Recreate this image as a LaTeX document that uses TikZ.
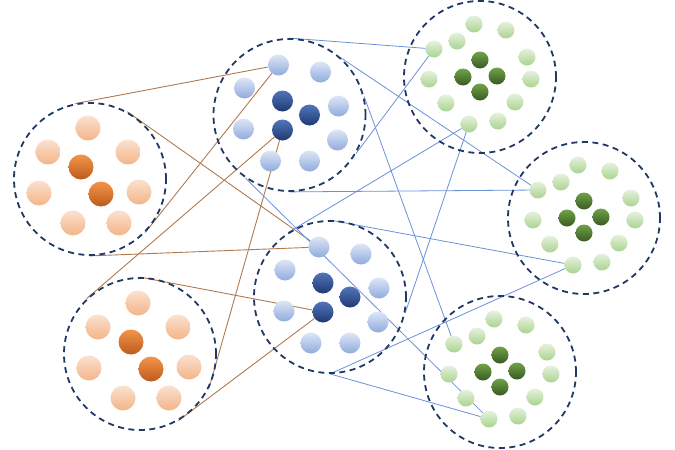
\documentclass[tikz,border=0pt]{standalone}
\usepackage{tikz}
\usetikzlibrary{backgrounds}
\definecolor{ring}{HTML}{203864}
\definecolor{brownline}{HTML}{B07A50}
\definecolor{blueline}{HTML}{6A91D8}
\definecolor{orangeTop}{HTML}{FBE1D0}
\definecolor{orangeBot}{HTML}{F3B487}
\definecolor{orangeDarkTop}{HTML}{F2954A}
\definecolor{orangeDarkBot}{HTML}{BD5A1C}
\definecolor{blueTop}{HTML}{DDE6F6}
\definecolor{blueBot}{HTML}{90ABDD}
\definecolor{blueDarkTop}{HTML}{5275BA}
\definecolor{blueDarkBot}{HTML}{1F3A72}
\definecolor{greenTop}{HTML}{E6F2DE}
\definecolor{greenBot}{HTML}{AAD38F}
\definecolor{greenDarkTop}{HTML}{70A348}
\definecolor{greenDarkBot}{HTML}{385A22}
\tikzset{
    cluster/.style={circle, draw=ring, line width=1.8pt, dash pattern=on 6pt off 4.5pt, minimum size=152pt, inner sep=0pt},
    odot/.style={circle, minimum size=25pt, inner sep=0pt, top color=orangeTop, bottom color=orangeBot},
    odark/.style={circle, minimum size=25pt, inner sep=0pt, top color=orangeDarkTop, bottom color=orangeDarkBot},
    bdot/.style={circle, minimum size=21pt, inner sep=0pt, top color=blueTop, bottom color=blueBot},
    bdark/.style={circle, minimum size=21pt, inner sep=0pt, top color=blueDarkTop, bottom color=blueDarkBot},
    gdot/.style={circle, minimum size=17pt, inner sep=0pt, top color=greenTop, bottom color=greenBot},
    gdark/.style={circle, minimum size=17pt, inner sep=0pt, top color=greenDarkTop, bottom color=greenDarkBot},
    brownlink/.style={draw=brownline, line width=0.9pt},
    bluelink/.style={draw=blueline, line width=0.8pt}
}

\begin{document}
\begin{tikzpicture}[x=1pt, y=-1pt]
    \useasboundingbox (0,0) rectangle (675,450);
    % dashed clusters
    \node[cluster] (o1) at (90,179) {};
    \node[cluster] (o2) at (140,354) {};
    \node[cluster] (b1) at (289.5,115) {};
    \node[cluster] (b2) at (330,297) {};
    \node[cluster] (g1) at (480,77) {};
    \node[cluster] (g2) at (584,218) {};
    \node[cluster] (g3) at (500,372) {};
    % dots inside the clusters
    \foreach \c in {o1,o2}{
        \foreach \dx/\dy [count=\i] in {-2/-51, -42/-27, 38/-27, -51/14, 49/13, -17/44, 29/44}
            \node[odot] (\c-\i) at ([shift={(\dx,\dy)}]\c) {};
        \foreach \dx/\dy [count=\i] in {-9/-12, 11/15}
            \node[odark] (\c-d\i) at ([shift={(\dx,\dy)}]\c) {};
    }
    \foreach \c in {b1,b2}{
        \foreach \dx/\dy [count=\i] in {-11/-50, 31/-43, -45/-27, 49/-9, -46/14, 48/25, -19/46, 20/46}
            \node[bdot] (\c-\i) at ([shift={(\dx,\dy)}]\c) {};
        \foreach \dx/\dy [count=\i] in {-7/-14, 20/0, -7/15}
            \node[bdark] (\c-d\i) at ([shift={(\dx,\dy)}]\c) {};
    }
    \foreach \c in {g1,g2,g3}{
        \foreach \dx/\dy [count=\i] in {-6/-53, 26/-47, -23/-36, -46/-28, 47/-20, -51/2, 51/2, -34/26, 35/25, -11/47, 18/44}
            \node[gdot] (\c-\i) at ([shift={(\dx,\dy)}]\c) {};
        \foreach \dx/\dy [count=\i] in {0/-17, -17/0, 17/-1, 0/15}
            \node[gdark] (\c-d\i) at ([shift={(\dx,\dy)}]\c) {};
    }
    % links
    \begin{scope}[on background layer]
        \draw[brownlink] (o1.101) -- (b1-1);
        \draw[brownlink] (o1.61) -- (b2-1);
        \draw[brownlink] (b1-1) -- (o1.-44);
        \draw[brownlink] (o1.-90) -- (b2-1);
        \draw[brownlink] (b1-d3) -- (o2.134);
        \draw[brownlink] (b1-d3) -- (o2.-26);
        \draw[brownlink] (o2.90) -- (b2-d3);
        \draw[brownlink] (b2-d3) -- (o2.-60);
        \draw[bluelink] (b1.90) -- (g1-4);
        \draw[bluelink] (b1.48) -- (g2-4);
        \draw[bluelink] (b1.14) -- (g3-4);
        \draw[bluelink] (g1-4) -- (b1.-30);
        \draw[bluelink] (b1.-90) -- (g2-4);
        \draw[bluelink] (b1.-125) -- (g3-10);
        \draw[bluelink] (g1-10) -- (b2.123);
        \draw[bluelink] (g1-10) -- (b2.-12);
        \draw[bluelink] (b2.90) -- (g2-10);
        \draw[bluelink] (g2-10) -- (b2.-90);
        \draw[bluelink] (b2.-90) -- (g3-10);
    \end{scope}
\end{tikzpicture}
\end{document}
